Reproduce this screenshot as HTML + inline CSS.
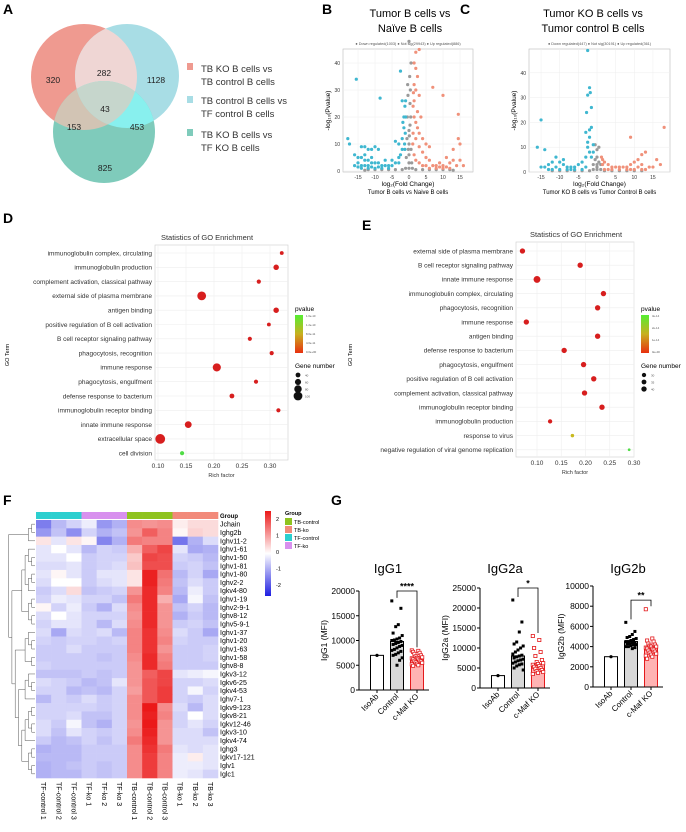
<!DOCTYPE html>
<html><head><meta charset="utf-8"><style>
html,body{margin:0;padding:0;background:#fff}
svg{display:block;font-family:"Liberation Sans",Arial,sans-serif}
</style></head><body>
<svg id="fig" width="686" height="832" viewBox="0 0 686 832" xmlns="http://www.w3.org/2000/svg">
<!-- Panel A Venn -->
<g>
<text x="3" y="14" font-size="14" font-weight="bold">A</text>
<circle cx="84" cy="77" r="53" fill="#ef9a90"/>
<circle cx="127" cy="76" r="52" fill="#a8dde5"/>
<circle cx="104" cy="132" r="51" fill="#7fcbbb"/>
<clipPath id="cr"><circle cx="84" cy="77" r="53"/></clipPath>
<clipPath id="cb"><circle cx="127" cy="76" r="52"/></clipPath>
<clipPath id="cg"><circle cx="104" cy="132" r="51"/></clipPath>
<circle cx="127" cy="76" r="52" fill="#efd6d4" clip-path="url(#cr)"/>
<circle cx="104" cy="132" r="51" fill="#d2c4b4" clip-path="url(#cr)"/>
<circle cx="104" cy="132" r="51" fill="#88f0ee" clip-path="url(#cb)"/>
<g clip-path="url(#cr)"><circle cx="104" cy="132" r="51" fill="#c6d6cc" clip-path="url(#cb)"/></g>
<g font-size="8.5" fill="#222" text-anchor="middle">
<text x="53" y="83">320</text><text x="104" y="76">282</text><text x="156" y="83">1128</text>
<text x="105" y="112">43</text><text x="74" y="130">153</text><text x="137" y="130">453</text><text x="105" y="171">825</text>
</g>
<g font-size="9.5" fill="#333">
<rect x="187" y="63" width="6" height="7" fill="#ef9a90"/><text x="201" y="72">TB KO B cells vs</text><text x="201" y="85">TB control B cells</text>
<rect x="187" y="96" width="6" height="7" fill="#a8dde5"/><text x="201" y="104">TB control B cells vs</text><text x="201" y="117">TF control B cells</text>
<rect x="187" y="129" width="6" height="7" fill="#7fcbbb"/><text x="201" y="138">TB KO B cells vs</text><text x="201" y="151">TF KO B cells</text>
</g>
</g>
<text x="322" y="14" font-size="14" font-weight="bold">B</text>
<text x="460" y="14" font-size="14" font-weight="bold">C</text>
<text x="410" y="17" font-size="11" text-anchor="middle">Tumor B cells vs</text>
<text x="410" y="32" font-size="11" text-anchor="middle">Naïve B cells</text>
<text x="593" y="17" font-size="11" text-anchor="middle">Tumor KO B cells vs</text>
<text x="593" y="32" font-size="11" text-anchor="middle">Tumor control B cells</text>
<g id="volB"></g>
<g id="volC"></g>
<text x="3" y="223" font-size="14" font-weight="bold">D</text>
<text x="362" y="230" font-size="14" font-weight="bold">E</text>
<g id="goD"></g>
<g id="goE"></g>
<text x="3" y="505" font-size="14" font-weight="bold">F</text>
<g id="heat"></g>
<text x="331" y="505" font-size="14" font-weight="bold">G</text>
<g id="bars"></g>
</svg>
<script>
const NS="http://www.w3.org/2000/svg";
function mk(p,t,a,txt){const e=document.createElementNS(NS,t);for(const k in a)e.setAttribute(k,a[k]);if(txt!==undefined)e.textContent=txt;p.appendChild(e);return e;}

// ---- Volcano data ----
const volB_down=[[-15.5,34],[-8.5,27],[-2.5,37],[-18,12],[-17.5,10],[-14,9],[-13,9],[-12,8],[-11,8],[-10,9],[-9,8],[-16,6],[-15,5],[-14,5],[-13,4],[-12,4],[-11,3],[-10,3],[-9,3],[-8,2],[-7,2],[-6,2],[-5,2],[-4,3],[-3,5],[-2,8],[-2,12],[-1.5,16],[-1.5,20],[-1.2,24],[-1,26],[-2,26],[-1.8,18],[-3,10],[-4,11],[-2.5,6],[-12,2],[-14,2],[-16,2],[-15,3],[-13,6],[-11,5],[-7,4],[-5,4],[-3,3],[-1.3,10],[-1.1,14],[-1,20],[-1.2,8],[-6,1],[-8,1],[-10,1],[-12,1],[-14,1],[-13,2],[-11,1.5],[-9,1.5],[-15,1.5]];
const volB_up=[[1.5,40],[2,44],[3,45],[2,38],[2.5,35],[1.5,32],[2,30],[3,28],[1.5,26],[1.2,24],[1.5,20],[2,18],[2.5,16],[3,14],[4,12],[5,10],[6,9],[7,31],[10,28],[14.5,21],[14.5,12],[15,10],[13,8],[11,5],[12,3],[9,3],[8,2],[6,4],[5,5],[4,7],[3,9],[2,12],[1.2,14],[1.1,10],[1.5,6],[2,4],[3,3],[5,2],[7,2],[10,2],[12,1],[14,2],[16,2],[13,4],[15,4],[4,2],[6,1],[8,1],[10,1],[1.3,29],[3.5,20],[2.5,22],[11,1.5],[9,1.5]];
const volB_ns=[[0,1],[0,3],[0,6],[0,10],[0,15],[0.5,20],[-0.5,20],[0.3,25],[-0.3,28],[0.2,35],[0,48],[0.6,40],[-0.6,12],[0.6,8],[-0.8,5],[0.8,3],[1,1],[-1,1],[2,0.5],[-2,0.5],[4,0.5],[-4,0.5],[6,0.5],[-6,0.5],[8,0.5],[-8,0.5],[10,0.5],[-10,0.5],[12,0.5],[-12,0.5],[-13,0.3],[13,0.3],[0.3,17],[-0.2,8],[0.1,13],[-0.4,32],[0.4,30]];
const volC_down=[[-15,21],[-16,10],[-14,9],[-11,6],[-12,4],[-13,3],[-10,4],[-9,3],[-8,2],[-7,2],[-6,2],[-5,3],[-4,4],[-3,6],[-2.5,10],[-2,14],[-2,17],[-1.5,18],[-2.5,12],[-3,16],[-2.5,31],[-2,34],[-1.8,32],[-1.5,26],[-2.8,24],[-2.5,49],[-1,11],[-1,8],[-14,2],[-12,1],[-10,1],[-8,1],[-6,1],[-4,1],[-3,2],[-11,2],[-15,2],[-9,5],[-2,8],[-1.5,6],[-13,1],[-7,1]];
const volC_up=[[18,18],[9,14],[17,3],[13,8],[12,7],[11,5],[10,4],[9,3],[8,2],[7,2],[6,2],[5,2],[4,2],[3,3],[2,4],[1.5,5],[1.2,6],[12,3],[14,2],[15,2],[13,1],[11,2],[6,1],[4,1],[2,1],[10,1],[8,1],[1.5,3],[3,1],[16,5],[9,1],[12,1]];
const volC_ns=[[0,1],[0,3],[0,6],[0,9],[-0.5,11],[0.5,10],[0,2],[1,1],[-1,1],[2,0.5],[-2,0.5],[4,0.5],[-4,0.5],[6,0.5],[-6,0.5],[8,0.5],[-8,0.5],[10,0.5],[-10,0.5],[12,0.5],[-12,0.5],[-0.5,5],[0.5,4],[1,3],[-1,3]];
const volB_xticks=[-15,-10,-5,0,5,10,15];
const volB_yticks=[0,10,20,30,40];
const volC_yticks=[0,10,20,30,40];

function volcano(gid,box,x0px,xppu,y0px,yppu,down,up,ns,yt,legend,sub){
  const g=document.getElementById(gid);
  const X=v=>x0px+v*xppu, Y=v=>y0px-v*yppu;
  mk(g,'rect',{x:box[0],y:box[1],width:box[2]-box[0],height:box[3]-box[1],fill:'#fff',stroke:'#bbb','stroke-width':0.6});
  volB_xticks.forEach(t=>{mk(g,'line',{x1:X(t),x2:X(t),y1:box[1],y2:box[3],stroke:'#eee','stroke-width':0.5});
    const l=mk(g,'text',{x:X(t),y:box[3]+7,'font-size':5,'text-anchor':'middle',fill:'#333'},String(t));
    });
  yt.forEach(t=>{mk(g,'line',{x1:box[0],x2:box[2],y1:Y(t),y2:Y(t),stroke:'#eee','stroke-width':0.5});
    const l=mk(g,'text',{x:box[0]-3,y:Y(t)+2,'font-size':5,'text-anchor':'end',fill:'#333'},String(t));
    });
  const pts=(arr,c)=>arr.forEach(p=>{const e=mk(g,'circle',{cx:X(p[0]),cy:Y(p[1]),r:1.6,fill:c});
    });
  pts(ns,'#9a9a9a');pts(down,'#3fb7d0');pts(up,'#f0917a');
  const cx=(box[0]+box[2])/2;
  const lg=mk(g,'text',{x:cx,y:box[1]-4,'font-size':3.8,'text-anchor':'middle',fill:'#555'},legend);
  
  mk(g,'text',{x:cx,y:box[3]+14,'font-size':6.5,'text-anchor':'middle'},'log\u2082(Fold Change)');
  mk(g,'text',{x:cx,y:box[3]+22,'font-size':6,'text-anchor':'middle'},sub);
  const yl=mk(g,'text',{x:0,y:0,'font-size':6.5,'text-anchor':'middle',transform:`translate(${box[0]-13},${(box[1]+box[3])/2}) rotate(-90)`},'-log\u2081\u2080(Pvalue)');
  
}
volcano('volB',[343,49,473,172],409,3.4,171,2.7,volB_down,volB_up,volB_ns,volB_yticks,'● Down regulated(1003)  ● Not sig(29943)  ● Up regulated(886)','Tumor B cells vs Naive B cells');
volcano('volC',[529,49,670,172],597,3.73,172,2.48,volC_down,volC_up,volC_ns,volC_yticks,'● Down regulated(447)  ● Not sig(30191)  ● Up regulated(361)','Tumor KO B cells vs Tumor Control B cells');

// ---- GO enrichment data ----
const goD_terms=["immunoglobulin complex, circulating","immunoglobulin production","complement activation, classical pathway","external side of plasma membrane","antigen binding","positive regulation of B cell activation","B cell receptor signaling pathway","phagocytosis, recognition","immune response","phagocytosis, engulfment","defense response to bacterium","immunoglobulin receptor binding","innate immune response","extracellular space","cell division"];
const goD_rich=[0.321,0.311,0.280,0.178,0.311,0.298,0.264,0.303,0.205,0.275,0.232,0.315,0.154,0.104,0.143];
const goD_genes=[25,50,30,100,50,25,30,30,90,30,40,30,70,115,30];
const goD_p=[0,0,0,0,0,0,0,0,0,0,0,0,0,0,1];
const goE_terms=["external side of plasma membrane","B cell receptor signaling pathway","innate immune response","immunoglobulin complex, circulating","phagocytosis, recognition","immune response","antigen binding","defense response to bacterium","phagocytosis, engulfment","positive regulation of B cell activation","complement activation, classical pathway","immunoglobulin receptor binding","immunoglobulin production","response to virus","negative regulation of viral genome replication"];
const goE_rich=[0.070,0.189,0.100,0.237,0.225,0.078,0.225,0.156,0.196,0.217,0.198,0.234,0.127,0.173,0.290];
const goE_genes=[40,40,55,40,40,40,40,40,40,40,40,40,30,22,15];
const goE_p=[0,0,0,0,0,0,0,0,0,0,0,0,0,0.5,1];
const goTicks=[0.10,0.15,0.20,0.25,0.30];

function pcol(p){ // 0 red -> 0.5 yellow -> 1 green
  const r=p<0.5?215+(200-215)*p*2:200-(200-80)*(p-0.5)*2;
  const gg=p<0.5?30+(185-30)*p*2:185+(220-185)*(p-0.5)*2;
  const b=p<0.5?30:30+(40)*(p-0.5)*2;
  return `rgb(${r|0},${gg|0},${b|0})`;}
function go(gid,box,x0v,x0px,ppu,rowTop,rowStep,terms,rich,genes,pv,legX,rfun,titleX,sizeLabels,pLabels){
  const g=document.getElementById(gid);
  const X=v=>x0px+(v-x0v)*ppu, Y=i=>rowTop+i*rowStep;
  mk(g,'rect',{x:box[0],y:box[1],width:box[2]-box[0],height:box[3]-box[1],fill:'#fff',stroke:'#ccc','stroke-width':0.6});
  goTicks.forEach(t=>{mk(g,'line',{x1:X(t),x2:X(t),y1:box[1],y2:box[3],stroke:'#eee','stroke-width':0.6});
    const l=mk(g,'text',{x:X(t),y:box[3]+8,'font-size':6.5,'text-anchor':'middle',fill:'#333'},t.toFixed(2));
    });
  terms.forEach((t,i)=>{mk(g,'line',{x1:box[0],x2:box[2],y1:Y(i),y2:Y(i),stroke:'#eee','stroke-width':0.6});
    const l=mk(g,'text',{x:box[0]-3,y:Y(i)+2.3,'font-size':6.5,'text-anchor':'end',fill:'#333'},t);
    
    const c=mk(g,'circle',{cx:X(rich[i]),cy:Y(i),r:rfun(genes[i]),fill:pcol(pv[i])});
    });
  mk(g,'text',{x:titleX,y:box[1]-5,'font-size':7.5,'text-anchor':'middle',fill:'#333'},'Statistics of GO Enrichment');
  mk(g,'text',{x:(box[0]+box[2])/2,y:box[3]+17,'font-size':5.5,'text-anchor':'middle',fill:'#333'},'Rich factor');
  mk(g,'text',{x:0,y:0,'font-size':5.5,'text-anchor':'middle',transform:`translate(${gid==='goD'?9:352},355) rotate(-90)`},'GO Term');
  const lg=mk(g,'g',{});
  mk(lg,'text',{x:legX,y:311,'font-size':6.5},'pvalue');
  const gid2='gr'+gid;
  const d=mk(lg,'defs',{});const lgr=mk(d,'linearGradient',{id:gid2,x1:0,y1:1,x2:0,y2:0});
  mk(lgr,'stop',{offset:'0','stop-color':'#e83010'});mk(lgr,'stop',{offset:'0.5','stop-color':'#c8b020'});mk(lgr,'stop',{offset:'1','stop-color':'#55ee33'});
  mk(lg,'rect',{x:legX,y:315,width:8,height:38,fill:`url(#${gid2})`});
  pLabels.forEach((s,i)=>mk(lg,'text',{x:legX+11,y:317+i*(36/(pLabels.length-1)),'font-size':2.8,fill:'#555'},s));
  mk(lg,'text',{x:legX,y:368,'font-size':6.5},'Gene number');
  sizeLabels.forEach((s,i)=>{mk(lg,'circle',{cx:legX+3,cy:375+i*7,r:rfun(s),fill:'#111'});mk(lg,'text',{x:legX+10,y:376.5+i*7,'font-size':3,fill:'#555'},String(s));});
}
go('goD',[155,245,288,460],0.10,158,560,253,14.3,goD_terms,goD_rich,goD_genes,goD_p,295,n=>1.1+n*0.033,207,[40,60,80,100],['1.6e-10','1.2e-10','8.0e-11','4.0e-11','0.0e+00']);
go('goE',[516,242,634,457],0.10,537,485,251,14.2,goE_terms,goE_rich,goE_genes,goE_p,641,n=>0.6+n*0.052,576,[30,35,40],['3e-14','2e-14','1e-14','0e+00']);

// ---- Heatmap data ----
const heatRows=["Jchain","Ighg2b","Ighv11-2","Ighv1-61","Ighv1-50","Ighv1-81","Ighv1-80","Ighv2-2","Igkv4-80","Ighv1-19","Ighv2-9-1","Ighv8-12","Ighv5-9-1","Ighv1-37","Ighv1-20","Ighv1-63","Ighv1-58","Ighv8-8","Igkv3-12","Igkv6-25","Igkv4-53","Ighv7-1","Igkv9-123","Igkv8-21","Igkv12-46","Igkv3-10","Igkv4-74","Ighg3","Igkv17-121","Iglv1","Iglc1"];
const heatCols=["TF-control 1","TF-control 2","TF-control 3","TF-ko 1","TF-ko 2","TF-ko 3","TB-control 1","TB-control 2","TB-control 3","TB-ko 1","TB-ko 2","TB-ko 3"];
const heatGroups=["TF-control","TF-control","TF-control","TF-ko","TF-ko","TF-ko","TB-control","TB-control","TB-control","TB-ko","TB-ko","TB-ko"];
const heatVals=[
[-1.5,-0.8,-0.5,-0.2,-1.2,-0.9,1.3,1.2,1.3,0.2,0.4,0.4],
[-1.2,-0.7,-1.3,-0.5,-0.9,-0.7,1.2,1.8,1.4,0.1,0.5,0.4],
[0.3,-0.3,0.3,0.1,-1.4,-0.9,1.5,1.4,1.4,-1.6,-0.9,-0.4],
[-0.3,0.0,-0.3,-0.8,-0.5,-0.6,0.9,1.8,2.1,-0.3,-1.0,-0.9],
[-0.3,-0.3,0.0,-0.6,-0.5,-0.5,0.6,2.1,2.0,-0.5,-0.6,-0.8],
[-0.4,-0.4,-0.3,-0.6,-0.5,-0.4,0.7,2.0,2.0,-0.6,-0.5,-0.7],
[-0.3,0.1,-0.3,-0.6,-0.3,-0.3,0.3,2.5,1.6,-0.8,-0.5,-1.0],
[-0.4,0.0,0.0,-0.6,-0.4,-0.3,0.3,2.5,1.5,-0.7,-0.4,-0.6],
[-0.6,-0.4,0.4,-0.7,-0.6,-0.5,1.2,2.4,1.4,-0.8,-0.2,-0.6],
[-0.5,-0.2,-0.3,-0.5,-0.5,-0.7,1.5,2.4,0.9,-1.0,-0.1,-0.7],
[0.1,-0.5,-0.2,-0.6,-0.9,-0.4,1.3,2.4,1.2,-0.7,-0.5,-0.8],
[-0.4,0.0,-0.3,-0.5,-0.5,-0.5,1.2,2.4,1.2,-0.9,-0.6,-0.8],
[-0.5,-0.3,-0.3,-0.5,-0.8,-0.4,1.3,2.4,1.2,-0.6,-0.5,-0.7],
[-0.4,-1.0,-0.4,-0.5,-0.4,-0.8,1.4,2.3,1.3,-0.4,-0.6,-1.0],
[-0.5,-0.6,-0.5,-0.5,-0.6,-0.5,1.4,2.3,1.4,-0.5,-0.6,-0.6],
[-0.6,-0.6,-0.4,-0.6,-0.6,-0.6,1.4,2.3,1.2,-0.6,-0.6,-0.5],
[-0.6,-0.6,-0.6,-0.6,-0.7,-0.6,1.3,2.4,1.4,-0.6,-0.6,-0.5],
[-0.5,-0.6,-0.6,-0.6,-0.6,-0.6,1.2,2.4,1.5,-0.6,-0.6,-0.6],
[-0.7,-0.7,-0.7,-0.6,-0.7,-0.6,1.2,1.8,2.1,-0.3,-0.2,-0.1],
[-0.4,-0.5,-0.6,-0.8,-0.7,-0.3,1.2,1.9,2.1,-0.5,-0.5,-0.4],
[-0.5,-0.5,-0.8,-0.7,-0.8,-0.5,1.1,1.9,2.2,-0.5,-0.1,-0.5],
[-0.8,-0.5,-0.6,-0.4,-0.6,-0.5,1.3,1.9,2.2,-0.5,-0.6,-0.4],
[-0.5,-0.5,-0.5,-0.5,-0.6,-0.5,1.3,2.6,1.3,-0.4,-0.8,-0.4],
[-0.5,-0.5,-0.4,-0.7,-0.7,-0.5,1.3,2.5,1.4,-0.5,0.0,-0.4],
[-0.4,-0.6,-0.1,-0.7,-0.9,-0.5,1.2,2.6,1.2,-0.5,-0.3,-0.5],
[-0.4,-0.7,-0.3,-0.5,-0.6,-0.5,1.3,2.5,1.2,-0.4,-0.4,-0.7],
[-0.6,-0.8,-0.7,-0.5,-0.7,-0.5,1.5,2.4,1.2,-0.4,-0.4,-0.4],
[-0.9,-0.8,-0.8,-0.6,-0.6,-0.6,1.3,2.3,1.5,-0.3,-0.4,-0.3],
[-0.8,-0.8,-0.8,-0.6,-0.6,-0.6,1.3,2.2,1.4,-0.2,0.2,-0.3],
[-0.9,-0.8,-0.7,-0.6,-0.7,-0.6,1.3,2.2,1.4,-0.2,-0.2,-0.3],
[-0.9,-0.8,-0.8,-0.6,-0.7,-0.6,1.3,2.2,1.4,-0.2,-0.3,-0.5]];
const groupNames=["TB-control","TB-ko","TF-control","TF-ko"];
const groupColors={"TB-control":"#8fc31f","TB-ko":"#f28a7a","TF-control":"#2ccfcf","TF-ko":"#d890ee"};
const dendro=[[[0,1],2],[[[[3,[4,5]],[[6,7],8]],[[9,10],[11,12]]],[[[13,[14,15]],[16,17]],[[[18,[19,20]],21],[[[[22,23],[24,25]],26],[[27,28],[29,30]]]]]]];

function hcol(v){const t=Math.max(-1,Math.min(1,v/2.6));
  if(t>=0){return `rgb(${255-(255-235)*t|0},${255-(255-25)*t|0},${255-(255-25)*t|0})`;}
  const s=-t;return `rgb(${255-(255-30)*s|0},${255-(255-30)*s|0},${255-(255-225)*s|0})`;}
(function(){
  const g=document.getElementById('heat');
  const hx=36,hy=520,cw=182/12,rh=258/31;
  heatCols.forEach((c,j)=>{const r=mk(g,'rect',{x:hx+j*cw,y:512,width:cw+0.3,height:7,fill:groupColors[heatGroups[j]]});
    
    const t=mk(g,'text',{x:0,y:0,'font-size':7,transform:`translate(${hx+j*cw+cw/2-2.5},${hy+31*rh+4}) rotate(90)`},c);
    });
  mk(g,'text',{x:220,y:518,'font-size':6,'font-weight':'bold'},'Group');
  heatVals.forEach((row,i)=>{row.forEach((v,j)=>{const r=mk(g,'rect',{x:hx+j*cw,y:hy+i*rh,width:cw+0.3,height:rh+0.3,fill:hcol(v)});
      });
    const t=mk(g,'text',{x:220,y:hy+i*rh+rh/2+2.5,'font-size':7},heatRows[i]);
    });
  // dendrogram
  function walk(n){ if(typeof n==='number') return {y:hy+n*rh+rh/2,h:0};
    const a=walk(n[0]),b=walk(n[1]);const h=Math.max(a.h,b.h)+1;const x=hx-1-h*3.3;
    const xa=hx-1-a.h*3.3,xb=hx-1-b.h*3.3;
    mk(g,'path',{d:`M${xa},${a.y}H${x}V${b.y}H${xb}`,fill:'none',stroke:'#555','stroke-width':0.5});
    return {y:(a.y+b.y)/2,h:h};}
  const dg=walk(dendro);
  // colorbar
  const d=mk(g,'defs',{});const lg=mk(d,'linearGradient',{id:'hcb',x1:0,y1:0,x2:0,y2:1});
  [[0,2.6],[0.5,0],[1,-2.6]].forEach(s=>mk(lg,'stop',{offset:s[0],'stop-color':hcol(s[1])}));
  const cb=mk(g,'rect',{x:265,y:511,width:6,height:85,fill:'url(#hcb)'});
  
  [2,1,0,-1,-2].forEach((v,i)=>mk(g,'text',{x:276,y:521+i*16.5,'font-size':5.5},String(v)));
  mk(g,'text',{x:285,y:515,'font-size':5.5,'font-weight':'bold'},'Group');
  groupNames.forEach((n,i)=>{const r=mk(g,'rect',{x:285,y:518+i*8,width:7,height:7,fill:groupColors[n]});
    
    mk(g,'text',{x:294,y:524+i*8,'font-size':5.5},n);});
})();

// ---- Bar chart data ----
const barCats=["IsoAb","Control","c-Maf KO"];
const igg1_means=[7000,9800,6300];
const igg1_ctrl=[18000,16500,13200,12800,11500,11000,10500,10300,10100,10000,9800,9600,9400,9200,9000,8800,8500,8200,8000,7800,7500,7200,7000,6500,6000,5000];
const igg1_ko=[8000,7900,7700,7500,7300,7000,6800,6600,6500,6400,6300,6200,6000,5900,5800,5600,5500,5300,5200,5000,4900];
const igg1_ticks=[0,5000,10000,15000,20000];
const igg2a_means=[3100,8000,6000];
const igg2a_ctrl=[22000,16500,14000,11500,11000,10500,10000,9500,9000,8500,8200,8000,7800,7500,7200,7000,6800,6500,6200,6000,5800,5500,5000,4500];
const igg2a_ko=[13000,12000,10000,9000,8000,7000,6500,6200,6000,5800,5500,5300,5000,4800,4500,4200,4000,3800,3500];
const igg2a_ticks=[0,5000,10000,15000,20000,25000];
const igg2b_means=[3000,4500,3900];
const igg2b_ctrl=[6400,5500,5200,5000,4900,4800,4700,4600,4500,4500,4400,4400,4300,4300,4200,4200,4100,4000,4000,3900,3800];
const igg2b_ko=[7700,4800,4600,4500,4300,4200,4100,4000,4000,3900,3800,3800,3700,3600,3500,3400,3300,3200,3100,3000,2800];
const igg2b_ticks=[0,2000,4000,6000,8000,10000];

function barChart(title,ylab,axX,y0,yTop,maxV,ticks,means,ctrl,ko,sig,sigV,titleX,yLabX){
  const g=document.getElementById('bars');
  const sub=mk(g,'g',{});
  const Y=v=>y0-(v/maxV)*(y0-yTop);const cx=[axX+18,axX+38,axX+58];
  const t=mk(sub,'text',{x:titleX,y:573,'font-size':13,'text-anchor':'middle'},title);
  
  const fills=['#fff','#d8d8d8','#ffb3b3'],strokes=['#000','#000','#e31a1c'];
  means.forEach((m,i)=>{const r=mk(sub,'rect',{x:cx[i]-6.5,y:Y(m),width:13,height:y0-Y(m),fill:fills[i],stroke:strokes[i],'stroke-width':1});
    });
  mk(sub,'circle',{cx:cx[0],cy:Y(means[0]),r:1.6,fill:'#000'});
  ctrl.forEach((v,k)=>{const o=((k*7)%9-4)*1.3;const p=mk(sub,'rect',{x:cx[1]+o-1.5,y:Y(v)-1.5,width:3,height:3,fill:'#000'});
    });
  ko.forEach((v,k)=>{const o=((k*5)%9-4)*1.3;const p=mk(sub,'rect',{x:cx[2]+o-1.6,y:Y(v)-1.6,width:3.2,height:3.2,fill:'#fff',stroke:'#e31a1c','stroke-width':0.8});
    });
  mk(sub,'line',{x1:axX,x2:axX,y1:yTop,y2:y0,stroke:'#000','stroke-width':1});
  mk(sub,'line',{x1:axX,x2:axX+70,y1:y0,y2:y0,stroke:'#000','stroke-width':1});
  ticks.forEach(tk=>{mk(sub,'line',{x1:axX-3,x2:axX,y1:Y(tk),y2:Y(tk),stroke:'#000','stroke-width':1});
    const l=mk(sub,'text',{x:axX-4,y:Y(tk)+3,'font-size':8.5,'text-anchor':'end'},String(tk));
    });
  cx.forEach((x,i)=>{mk(sub,'line',{x1:x,x2:x,y1:y0,y2:y0+3,stroke:'#000','stroke-width':1});
    const l=mk(sub,'text',{x:0,y:0,'font-size':8,'text-anchor':'end',transform:`translate(${x+2},${y0+7}) rotate(-45)`},barCats[i]);
    });
  const yl=mk(sub,'text',{x:0,y:0,'font-size':8.5,'text-anchor':'middle',transform:`translate(${yLabX},${(y0+yTop)/2}) rotate(-90)`},ylab);
  
  const by=Y(sigV);
  mk(sub,'path',{d:`M${cx[1]},${Y(Math.max(...ctrl))-3}V${by}H${cx[2]}V${Y(Math.max(...ko))-3}`,fill:'none',stroke:'#000','stroke-width':0.8});
  const s=mk(sub,'text',{x:(cx[1]+cx[2])/2,y:by-1.5,'font-size':9,'text-anchor':'middle','font-weight':'bold'},sig);
  
}
barChart('IgG1','IgG1 (MFI)',359,690,591,20000,igg1_ticks,igg1_means,igg1_ctrl,igg1_ko,'****',20000,388,327);
barChart('IgG2a','IgG2a (MFI)',480,688,588,25000,igg2a_ticks,igg2a_means,igg2a_ctrl,igg2a_ko,'*',25000,505,448);
barChart('IgG2b','IgG2b (MFI)',593,687,586,10000,igg2b_ticks,igg2b_means,igg2b_ctrl,igg2b_ko,'**',8600,628,564);
</script>
</body></html>
